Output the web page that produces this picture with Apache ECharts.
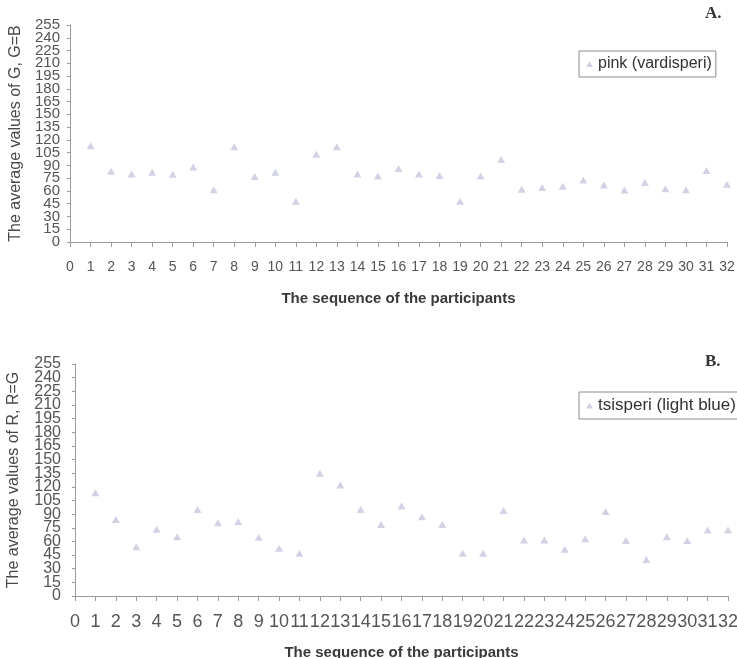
<!DOCTYPE html>
<html>
<head>
<meta charset="utf-8">
<script src="https://cdn.jsdelivr.net/npm/echarts@6/dist/echarts.min.js"></script>
<style>
  html, body { margin: 0; padding: 0; background: #ffffff; }
  #chart { width: 737px; height: 658px; }
</style>
</head>
<body>
<div id="chart"></div>
<script>
// Participant order (x values)
const participants = [1, 2, 3, 4, 5, 6, 7, 8, 9, 10, 11, 12, 13, 14, 15, 16,
                      17, 18, 19, 20, 21, 22, 23, 24, 25, 26, 27, 28, 29, 30, 31, 32];

// Panel A: average values of G (G=B), pink (vardisperi)
const pinkValues = [113, 83, 80, 82, 79.5, 88, 61.5, 112, 77, 82, 48, 103, 112, 80, 77.5, 86.5,
                    80, 78, 48, 77.5, 97, 62, 64, 65.5, 73, 67, 61, 70, 62.5, 61.5, 84, 68];

// Panel B: average values of R (R=G), tsisperi (light blue)
const blueValues = [113.5, 84, 54, 73.5, 65, 95, 80.5, 82, 64.5, 52.5, 47, 135, 122, 95, 78.5, 99,
                    87, 78.5, 47, 47, 94, 61.5, 61.5, 51.5, 63, 93, 61, 40, 65, 61, 72.5, 72.5];

const seriesNames = ['pink (vardisperi)', 'tsisperi (light blue)'];
const yTitles = ['The average values of G, G=B', 'The average values of R, R=G'];
const xTitle = 'The sequence of the participants';
const panelLetters = ['A.', 'B.'];

const FONT = '"Liberation Sans", Arial, sans-serif';
const markerColor = '#c6c8de';
const axisColor = '#9a9a9a';
const labelColor = '#555555';

function pairs(values) {
  return participants.map((p, i) => [p, values[i]]);
}

function xAxisFor(gridIndex, fontSize, margin, nameGap) {
  return {
    gridIndex: gridIndex,
    type: 'value',
    min: 0, max: 32, interval: 1,
    name: xTitle,
    nameLocation: 'middle',
    nameGap: nameGap,
    nameTextStyle: { fontFamily: FONT, fontSize: 15, fontWeight: 'bold', color: '#3a3a3a' },
    axisLine: { show: true, onZero: false, lineStyle: { color: axisColor, width: 1 } },
    axisTick: { show: true, length: 5, lineStyle: { color: axisColor } },
    axisLabel: { fontFamily: FONT, fontSize: fontSize, color: labelColor, margin: margin,
                 showMinLabel: true, showMaxLabel: true, hideOverlap: false },
    splitLine: { show: false }
  };
}

// Main value axis: every 15 units, inner labels only (the tight spacing would
// otherwise make the library drop the labels next to the ends).
function yAxisFor(gridIndex, fontSize, margin, nameGap) {
  return {
    gridIndex: gridIndex,
    type: 'value',
    position: 'left',
    min: 0, max: 255, interval: 15,
    name: yTitles[gridIndex],
    nameLocation: 'middle',
    nameRotate: 90,
    nameGap: nameGap,
    nameTextStyle: { fontFamily: FONT, fontSize: 16, color: '#4a4a4a' },
    axisLine: { show: true, lineStyle: { color: axisColor, width: 1 } },
    axisTick: { show: true, length: 3, lineStyle: { color: axisColor } },
    axisLabel: { fontFamily: FONT, fontSize: fontSize, color: labelColor, margin: margin,
                 showMinLabel: false, showMaxLabel: false, hideOverlap: false },
    splitLine: { show: false }
  };
}

// Companion axis on the same grid carrying just the 0 and 255 end labels.
function yEndAxisFor(gridIndex, fontSize, margin) {
  return {
    gridIndex: gridIndex,
    type: 'value',
    position: 'left',
    offset: 0,
    min: 0, max: 255, interval: 255,
    axisLine: { show: false },
    axisTick: { show: true, length: 3, lineStyle: { color: axisColor } },
    axisLabel: { fontFamily: FONT, fontSize: fontSize, color: labelColor, margin: margin,
                 showMinLabel: true, showMaxLabel: true, hideOverlap: false },
    splitLine: { show: false }
  };
}

function legendFor(name, left, top, fontSize) {
  return {
    data: [name],
    left: left, top: top,
    orient: 'vertical',
    icon: 'triangle',
    itemWidth: 7, itemHeight: 6, itemGap: 0,
    padding: [5, 4, 5, 7],
    borderColor: '#8c8c8c', borderWidth: 1,
    backgroundColor: '#ffffff',
    textStyle: { fontFamily: FONT, fontSize: fontSize, color: '#333333' }
  };
}

const chart = echarts.init(document.getElementById('chart'), null, { renderer: 'canvas' });
chart.setOption({
  backgroundColor: '#ffffff',
  animation: false,
  grid: [
    { left: 70, right: 10, top: 25, height: 217, containLabel: false, outerBoundsMode: 'none' },
    { left: 75, right: 9, top: 364, height: 232, containLabel: false, outerBoundsMode: 'none' }
  ],
  xAxis: [xAxisFor(0, 14, 18, 49), xAxisFor(1, 18, 17, 49)],
  yAxis: [
    yAxisFor(0, 15, 10, 45), yAxisFor(1, 16, 14, 53),
    yEndAxisFor(0, 15, 10), yEndAxisFor(1, 16, 14)
  ],
  legend: [legendFor(seriesNames[0], 579, 51, 16), legendFor(seriesNames[1], 579, 392, 17)],
  graphic: [
    { type: 'text', left: 705, top: 5,
      style: { text: panelLetters[0], font: 'bold 17px "Liberation Serif", "Times New Roman", serif', fill: '#333333' } },
    { type: 'text', left: 705, top: 353,
      style: { text: panelLetters[1], font: 'bold 17px "Liberation Serif", "Times New Roman", serif', fill: '#333333' } }
  ],
  series: [
    {
      name: seriesNames[0], type: 'scatter', xAxisIndex: 0, yAxisIndex: 0,
      symbol: 'triangle', symbolSize: [8, 7],
      itemStyle: { color: markerColor },
      data: pairs(pinkValues)
    },
    {
      name: seriesNames[1], type: 'scatter', xAxisIndex: 1, yAxisIndex: 1,
      symbol: 'triangle', symbolSize: [8, 7],
      itemStyle: { color: markerColor },
      data: pairs(blueValues)
    }
  ]
});
</script>
</body>
</html>
